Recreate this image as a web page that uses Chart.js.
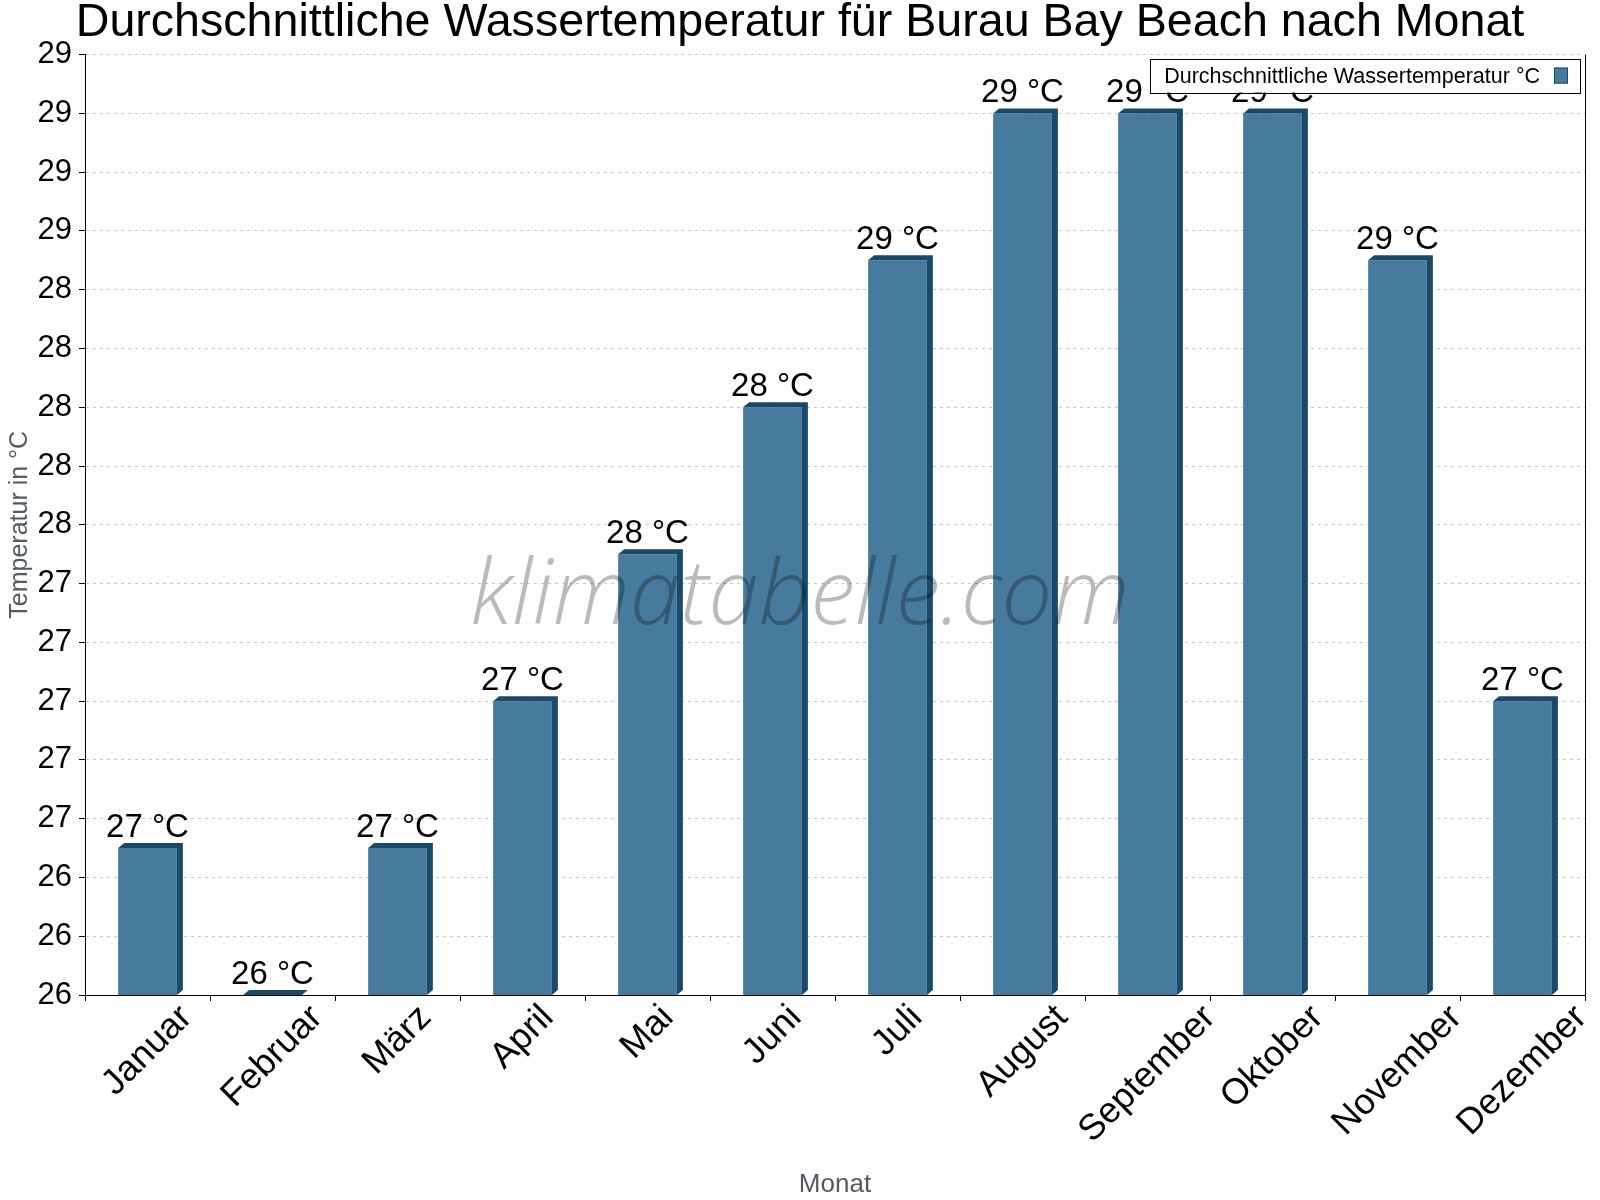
<!DOCTYPE html>
<html>
<head>
<meta charset="utf-8">
<script src="https://cdn.jsdelivr.net/npm/chart.js@4.4.0/dist/chart.umd.min.js"></script>
<style>
  html, body { margin: 0; padding: 0; background: #fff; }
  #wrap { width: 1600px; height: 1200px; }
</style>
</head>
<body>
<div id="wrap"><canvas id="myChart" width="1600" height="1200"></canvas></div>
<script>
// Daten
const monate = ['Januar', 'Februar', 'März', 'April', 'Mai', 'Juni', 'Juli', 'August', 'September', 'Oktober', 'November', 'Dezember'];
const wassertemperatur = [26.5, 26.0, 26.5, 27.0, 27.5, 28.0, 28.5, 29.0, 29.0, 29.0, 28.5, 27.0];
const yTickLabels = ['26', '26', '26', '27', '27', '27', '27', '27', '28', '28', '28', '28', '28', '29', '29', '29', '29'];
const titel = 'Durchschnittliche Wassertemperatur für Burau Bay Beach nach Monat';
const legendeText = 'Durchschnittliche Wassertemperatur °C';
const wasserzeichen = 'klimatabelle.com';

const FONT = '"Liberation Sans", Arial, sans-serif';
const hell = '#467b9e';
const dunkel = '#1a4a6b';
const tiefeX = 6, tiefeY = 5;

// 3D-Kanten, Werte, Wasserzeichen, Legende
const extras = {
  id: 'extras',
  afterDatasetsDraw(chart) {
    const ctx = chart.ctx;
    const ca = chart.chartArea;
    const meta = chart.getDatasetMeta(0);
    ctx.save();
    meta.data.forEach((bar, i) => {
      const p = bar.getProps(['x', 'y', 'base', 'width'], true);
      const l = p.x - p.width / 2, r = p.x + p.width / 2;
      const unten = Math.min(p.base, ca.bottom);
      ctx.fillStyle = dunkel;
      ctx.beginPath();
      ctx.moveTo(l, p.y);
      ctx.lineTo(l + tiefeX, p.y - tiefeY);
      ctx.lineTo(r + tiefeX, p.y - tiefeY);
      ctx.lineTo(r + tiefeX, unten - tiefeY);
      ctx.lineTo(r, unten);
      ctx.lineTo(r, p.y);
      ctx.closePath();
      ctx.fill();

      ctx.fillStyle = '#000';
      ctx.font = '33px ' + FONT;
      ctx.textAlign = 'center';
      ctx.textBaseline = 'alphabetic';
      ctx.fillText(Math.round(wassertemperatur[i]) + ' °C', p.x, p.y - 11);
    });

    // Wasserzeichen
    ctx.font = 'italic 300 90px "Open Sans", sans-serif';
    const w = ctx.measureText(wasserzeichen).width;
    const size = 90 * 659 / w;
    ctx.font = 'italic 300 ' + size + 'px "Open Sans", sans-serif';
    ctx.fillStyle = 'rgba(0,0,0,0.27)';
    ctx.textAlign = 'center';
    ctx.textBaseline = 'alphabetic';
    ctx.fillText(wasserzeichen, chart.width / 2, 624);

    // Legende
    ctx.font = '21.5px ' + FONT;
    const tw = ctx.measureText(legendeText).width;
    const boxW = 14 + tw + 14 + 14 + 12;
    const boxR = ca.right - 5, boxT = ca.top + 4, boxH = 34;
    const boxL = boxR - boxW;
    ctx.fillStyle = '#fff';
    ctx.fillRect(boxL, boxT, boxW, boxH);
    ctx.strokeStyle = '#000';
    ctx.lineWidth = 1;
    ctx.strokeRect(Math.round(boxL) + 0.5, Math.round(boxT) + 0.5, Math.round(boxW), boxH);
    ctx.fillStyle = '#000';
    ctx.textAlign = 'left';
    ctx.fillText(legendeText, boxL + 14, boxT + 24);
    ctx.fillStyle = hell;
    ctx.fillRect(boxR - 26, boxT + 9, 14, 16);
    ctx.strokeStyle = dunkel;
    ctx.strokeRect(boxR - 26 + 0.5, boxT + 9 + 0.5, 13, 15);

    // rechte Rahmenlinie
    ctx.strokeStyle = '#000';
    ctx.beginPath();
    ctx.moveTo(Math.round(ca.right) + 0.5, ca.top);
    ctx.lineTo(Math.round(ca.right) + 0.5, ca.bottom);
    ctx.stroke();
    ctx.restore();
  },
  afterDraw(chart) {
    // x-Beschriftungen, 45° gedreht, mittig unter der Kategorie
    const ctx = chart.ctx;
    const xs = chart.scales.x;
    const s2 = Math.SQRT2;
    ctx.save();
    ctx.font = '36px ' + FONT;
    ctx.fillStyle = '#000';
    ctx.textAlign = 'right';
    ctx.textBaseline = 'middle';
    monate.forEach((m, i) => {
      const c = xs.getPixelForValue(i);
      const L = ctx.measureText(m).width;
      ctx.save();
      ctx.translate(c + L / (2 * s2), chart.chartArea.bottom + 17);
      ctx.rotate(-Math.PI / 4);
      ctx.fillText(m, 0, 0);
      ctx.restore();
    });
    ctx.restore();
  }
};

new Chart(document.getElementById('myChart'), {
  type: 'bar',
  data: {
    labels: monate,
    datasets: [{
      label: legendeText,
      data: wassertemperatur,
      backgroundColor: hell,
      borderWidth: 0,
      barPercentage: 0.47,
      categoryPercentage: 1.0
    }]
  },
  options: {
    responsive: false,
    animation: false,
    layout: { padding: 0 },
    plugins: {
      legend: { display: false },
      tooltip: { enabled: false },
      title: {
        display: true,
        text: titel,
        color: '#000',
        font: { family: FONT, size: 46.6, weight: 'normal', lineHeight: 1 },
        padding: { top: 0, bottom: 8 }
      }
    },
    scales: {
      x: {
        afterFit(scale) { scale.height = 205; },
        ticks: { display: false },
        grid: { drawOnChartArea: false, drawTicks: true, tickLength: 6, color: '#000', tickColor: '#000' },
        border: { display: true, color: '#000', width: 1 },
        title: {
          display: true,
          text: 'Monat',
          color: '#525a63',
          font: { family: FONT, size: 26, lineHeight: 1.2 },
          padding: { top: 0, bottom: 0 }
        }
      },
      y: {
        min: 26,
        max: 29.2,
        afterFit(scale) { scale.width = 85; },
        ticks: {
          stepSize: 0.2,
          padding: 7,
          color: '#000',
          font: { family: FONT, size: 31 },
          callback: (v, i) => yTickLabels[i]
        },
        grid: { color: '#c8c8c8', lineWidth: 1, tickLength: 6, tickColor: '#000', tickBorderDash: [] },
        border: { display: true, color: '#000', width: 1, dash: [3, 4] },
        title: {
          display: true,
          text: 'Temperatur in °C',
          color: '#525a63',
          font: { family: FONT, size: 25, lineHeight: 1.2 },
          padding: { top: 5, bottom: 0 }
        }
      },
      rand: {
        position: 'right',
        min: 26,
        max: 29.2,
        afterFit(scale) { scale.width = 15; },
        ticks: { display: false },
        grid: { display: false },
        border: { display: false }
      }
    }
  },
  plugins: [extras]
});
</script>
</body>
</html>
